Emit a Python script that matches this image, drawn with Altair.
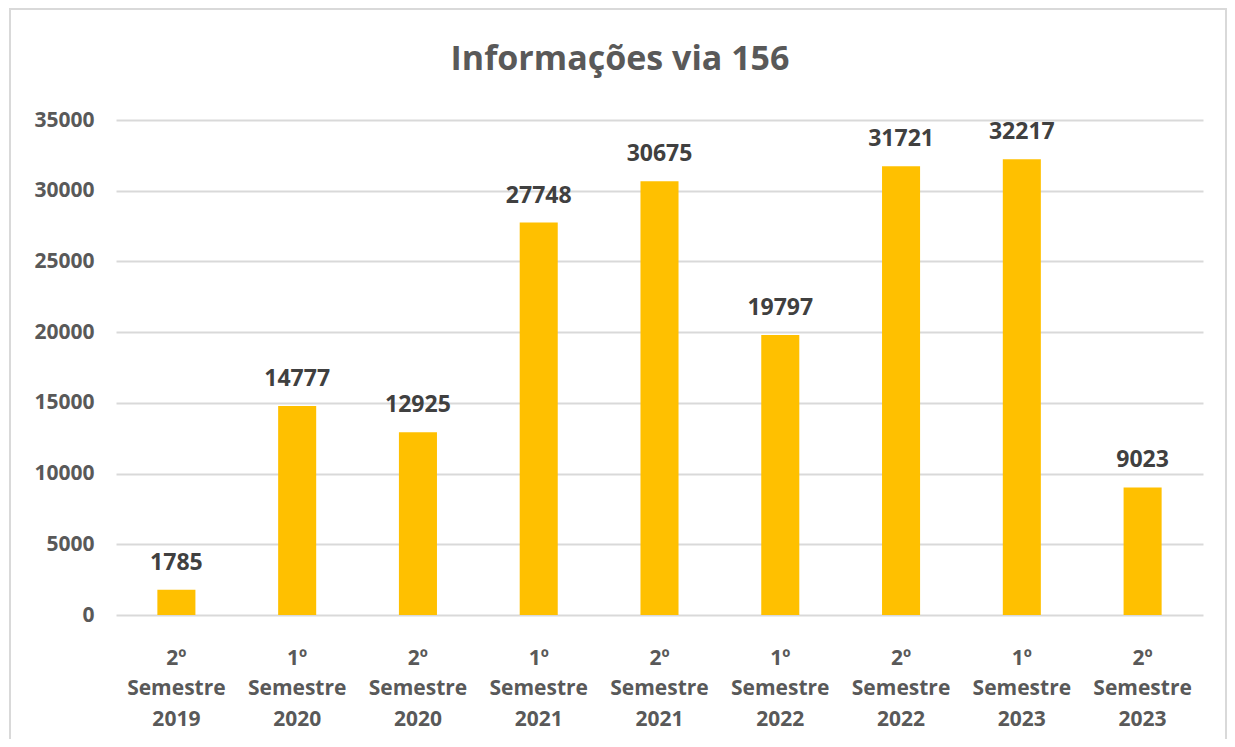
import altair as alt
import pandas as pd

categories = ["2º Semestre 2019", "1º Semestre 2020", "2º Semestre 2020",
              "1º Semestre 2021", "2º Semestre 2021", "1º Semestre 2022",
              "2º Semestre 2022", "1º Semestre 2023", "2º Semestre 2023"]
values = [1785, 14777, 12925, 27748, 30675, 19797, 31721, 32217, 9023]
y_ticks = [0, 5000, 10000, 15000, 20000, 25000, 30000, 35000]
title_text = ["Informações via 156"]

df = pd.DataFrame({"cat": categories, "val": values})

FONT = "Open Sans"

xenc = alt.X("cat:N", sort=categories, title=None,
             scale=alt.Scale(paddingInner=0.685, paddingOuter=0.3425),
             axis=alt.Axis(labelExpr="split(datum.value, ' ')", labelAngle=0,
                           labelFont=FONT, labelFontSize=21, labelFontWeight="bold",
                           labelColor="#595959", labelLineHeight=30.5,
                           labelPadding=43, labelBaseline="middle",
                           ticks=False, domain=False, grid=False))
yenc = alt.Y("val:Q", title=None,
             scale=alt.Scale(domain=[0, 35000], nice=False),
             axis=alt.Axis(values=y_ticks, format="d", labelFont=FONT,
                           labelFontSize=21, labelFontWeight="bold",
                           labelColor="#595959", labelPadding=22,
                           ticks=False, domain=False, grid=True,
                           gridColor="#d9d9d9", gridWidth=2))

bars = alt.Chart(df).mark_bar(color="#FFC000").encode(x=xenc, y=yenc)

labels = alt.Chart(df).mark_text(font=FONT, fontSize=23, fontWeight="bold",
                                 color="#404040", baseline="alphabetic", dy=-20).encode(
    x=alt.X("cat:N", sort=categories), y="val:Q", text=alt.Text("val:Q", format="d"))

frame = alt.Chart(pd.DataFrame({"a": [0]})).mark_rect(
    fill=None, stroke="#d9d9d9", strokeWidth=2).encode(
    x=alt.value(-106), x2=alt.value(1110), y=alt.value(-111), y2=alt.value(650))

title = alt.Chart(pd.DataFrame({"t": title_text})).mark_text(
    font=FONT, fontSize=34, fontWeight="bold", color="#595959",
    align="center", baseline="middle").encode(
    text="t:N", x=alt.value(504), y=alt.value(-60))

chart = alt.layer(frame, bars, labels, title).properties(
    width=1087, height=495,
    autosize=alt.AutoSizeParams(type="none"),
    padding={"left": 108, "top": 112, "right": 24, "bottom": 124},
).configure_view(stroke=None)

chart.save("out.html", embed_options={"renderer": "svg", "actions": False})
